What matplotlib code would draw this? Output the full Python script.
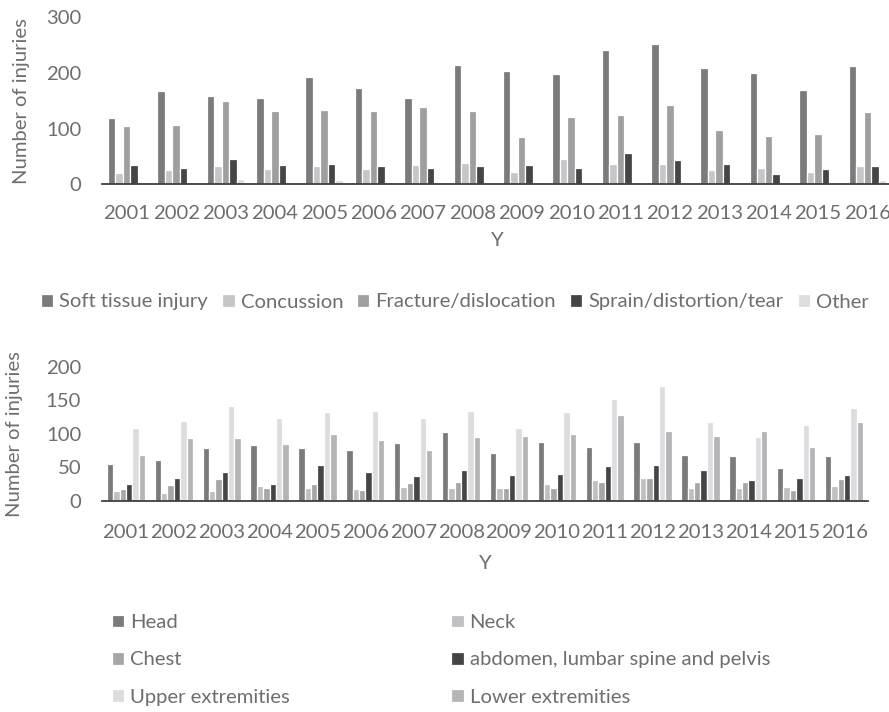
import matplotlib
matplotlib.use("Agg")
import matplotlib.pyplot as plt
import numpy as np

years = ["2001", "2002", "2003", "2004", "2005", "2006", "2007", "2008",
         "2009", "2010", "2011", "2012", "2013", "2014", "2015", "2016"]

# Top chart: injury types
soft_tissue = [118, 167, 159, 154, 193, 173, 155, 214, 204, 198, 240, 252, 208, 200, 169, 212]
concussion = [20, 26, 33, 28, 33, 28, 35, 38, 22, 46, 37, 37, 26, 30, 22, 32]
fracture = [104, 107, 149, 132, 134, 131, 139, 131, 84, 120, 125, 143, 97, 87, 90, 129]
sprain = [35, 29, 46, 35, 37, 33, 29, 33, 35, 30, 57, 43, 37, 19, 28, 32]
other = [5, 4, 10, 3, 7, 5, 5, 3, 4, 1, 5, 3, 2, 3, 2, 7]
top_labels = ["Soft tissue injury", "Concussion", "Fracture/dislocation",
              "Sprain/distortion/tear", "Other"]
top_colors = ["#7b7b7e", "#c6c6c8", "#9e9fa1", "#454546", "#dddddf"]

# Bottom chart: body regions
head = [55, 60, 78, 83, 78, 75, 86, 103, 71, 88, 80, 87, 68, 66, 48, 67]
neck = [14, 11, 14, 21, 19, 17, 20, 19, 19, 24, 30, 34, 19, 19, 20, 22]
chest = [17, 23, 32, 18, 25, 16, 26, 28, 19, 18, 27, 34, 27, 28, 16, 32]
abdomen = [24, 33, 42, 25, 53, 42, 36, 46, 38, 40, 52, 53, 45, 30, 33, 38]
upper = [108, 119, 141, 124, 133, 134, 124, 134, 109, 132, 152, 172, 117, 95, 113, 138]
lower = [68, 93, 93, 84, 100, 90, 75, 95, 97, 99, 128, 104, 97, 104, 80, 118]
bottom_labels = ["Head", "Neck", "Chest", "abdomen, lumbar spine and pelvis",
                 "Upper extremities", "Lower extremities"]
bottom_colors = ["#7b7b7e", "#c0c0c2", "#a6a6a8", "#454546", "#dddddf", "#b5b5b7"]

FONT = ["Lato", "DejaVu Sans"]
TXT = "#6e6e6e"
FS = 14.6
plt.rcParams["font.family"] = FONT

W, H = 889, 712
fig = plt.figure(figsize=(W / 100, H / 100), dpi=100)


def ax_px(left, right, bottom_px, top_px):
    return fig.add_axes([left / W, 1 - bottom_px / H, (right - left) / W, (bottom_px - top_px) / H])


def style(ax, ymax, step, xpad, xlpad):
    ax.set_ylim(0, ymax)
    ax.set_xlim(-0.5, len(years) - 0.5)
    ax.set_yticks(np.arange(0, ymax + 1, step))
    ax.set_xticks(np.arange(len(years)))
    ax.set_xticklabels(years)
    for s in ["top", "right", "left"]:
        ax.spines[s].set_visible(False)
    ax.spines["bottom"].set_color("#3f3f3f")
    ax.spines["bottom"].set_linewidth(1.3)
    ax.tick_params(axis="both", length=0, labelsize=FS, colors=TXT)
    ax.tick_params(axis="x", pad=xpad)
    ax.tick_params(axis="y", pad=15)
    ax.set_ylabel("Number of injuries", fontsize=FS, color=TXT)
    ax.set_xlabel("Y", fontsize=FS, color=TXT, labelpad=xlpad)


def grouped(ax, series, colors, labels, group_w):
    n = len(series)
    slot = group_w / n
    x = np.arange(len(years))
    handles = []
    for k, (vals, c, lab) in enumerate(zip(series, colors, labels)):
        off = -group_w / 2 + slot * (k + 0.5)
        h = ax.bar(x + off, vals, width=slot, color=c, edgecolor="white",
                   linewidth=0.9, label=lab)
        handles.append(h)
    return handles

# Top axes
ax1 = ax_px(102, 892, 184.3, 17)
h1 = grouped(ax1, [soft_tissue, concussion, fracture, sprain, other], top_colors, top_labels, 0.76)
style(ax1, 300, 100, 15, 7)
ax1.yaxis.set_label_coords(-0.091, 0.5)

# Bottom axes
ax2 = ax_px(102, 868, 500.5, 367)
h2 = grouped(ax2, [head, neck, chest, abdomen, upper, lower], bottom_colors, bottom_labels, 0.80)
style(ax2, 200, 50, 17, 10)
ax2.yaxis.set_label_coords(-0.103, 0.5)

leg1 = fig.legend(h1, top_labels, loc="center", bbox_to_anchor=(455 / W, 1 - 302 / H),
                  ncol=5, frameon=False, fontsize=FS, labelcolor=TXT,
                  handlelength=0.6, handleheight=0.6, handletextpad=0.3,
                  columnspacing=0.7, borderpad=0)

order = [0, 2, 4, 1, 3, 5]
leg2 = fig.legend([h2[i] for i in order], [bottom_labels[i] for i in order],
                  loc="upper left", bbox_to_anchor=(102 / W, 1 - 604 / H),
                  ncol=2, frameon=False, fontsize=FS, labelcolor=TXT,
                  handlelength=0.6, handleheight=0.6, handletextpad=0.3,
                  columnspacing=7.95, labelspacing=1.0, borderpad=0)

fig.savefig("out.png", dpi=100)
